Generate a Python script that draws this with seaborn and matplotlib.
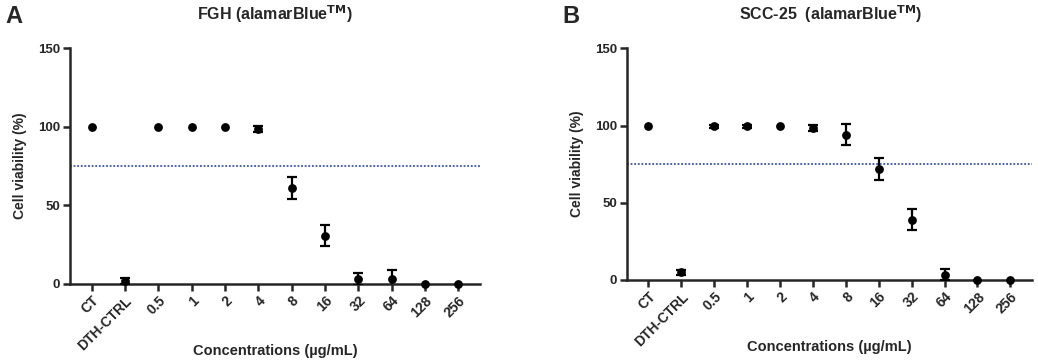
import numpy as np
import pandas as pd
import matplotlib
matplotlib.use("Agg")
import matplotlib.pyplot as plt
import seaborn as sns

# --- data ---
categories = ["CT", "DTH-CTRL", "0.5", "1", "2", "4", "8", "16", "32", "64", "128", "256"]

fgh_mean = [100, 2, 100, 100, 100, 98.5, 61, 30.5, 3.2, 3.2, 0, 0]
fgh_sd = [0, 1.8, 0, 0, 0, 2, 7, 6.7, 3.8, 5.5, 0, 0]

scc_mean = [100, 5, 99.5, 99.5, 100, 98.5, 94, 72, 39, 3.5, 0, 0]
scc_sd = [0, 1.5, 1, 1, 0, 2, 6.8, 7, 6.7, 3.7, 0, 0]

threshold = 75

sns.set_theme(style="ticks")
plt.rcParams['font.family'] = ['Liberation Sans', 'DejaVu Sans']
plt.rcParams['font.weight'] = 'bold'
plt.rcParams['axes.labelweight'] = 'bold'


def draw_panel(fig, rect, mean, sd, title, letter, letter_x, title_x, xlab_y):
    ax = fig.add_axes(rect)
    df = pd.DataFrame({"Concentration": categories, "Viability": mean, "SD": sd})
    df["pos"] = np.arange(len(categories))
    err = df[df["SD"] > 0]
    # error bars (bottom part hidden by the x axis like in GraphPad)
    ax.errorbar(err["pos"], err["Viability"], yerr=err["SD"], fmt="none", ecolor="black",
                elinewidth=1.6, capsize=3.5, capthick=1.6, zorder=3)
    sns.scatterplot(data=df, x="Concentration", y="Viability", ax=ax, color="black",
                    s=40, edgecolor="black", linewidth=0, clip_on=False, zorder=4)
    ax.axhline(threshold, color="#3a55a0", linestyle=(0, (1, 1)), linewidth=1.3, zorder=2)

    ax.set_ylim(0, 150)
    ax.set_yticks([0, 50, 100, 150])
    ax.set_xlim(-0.65, len(categories) - 0.35)
    ax.set_xticks(df["pos"])
    ax.set_xticklabels(categories, rotation=45, ha="right", rotation_mode="anchor")
    ax.tick_params(axis="both", width=1.8, length=5, pad=2)
    ax.tick_params(axis="x", labelsize=10)
    ax.tick_params(axis="y", labelsize=9.5)
    for lab in ax.get_xticklabels() + ax.get_yticklabels():
        lab.set_fontweight("bold")
    for s in ["left", "bottom"]:
        ax.spines[s].set_linewidth(1.8)
    sns.despine(ax=ax)

    ax.set_xlabel("Concentrations (µg/mL)", fontsize=10.5, fontweight="bold")
    ax.xaxis.label.set_va("center")
    ax.xaxis.set_label_coords(0.5, xlab_y)
    ax.set_ylabel("Cell viability (%)", fontsize=10, fontweight="bold", labelpad=8)

    fig.text(title_x, 0.962, title, fontsize=11.5, fontweight="bold", ha="center", va="center")
    fig.text(letter_x, 0.955, letter, fontsize=17, fontweight="bold", ha="center", va="center")
    return ax


fig = plt.figure(figsize=(10.38, 3.64), dpi=100)

draw_panel(fig, [0.0674, 0.22, 0.395, 0.648], fgh_mean, fgh_sd,
           r"FGH (alamarBlue$^{\mathbf{TM}}$)", "A", 0.013, 0.265, -0.285)
draw_panel(fig, [0.604, 0.231, 0.39, 0.636], scc_mean, scc_sd,
           r"SCC-25  (alamarBlue$^{\mathbf{TM}}$)", "B", 0.55, 0.80, -0.29)

fig.savefig("out.png", dpi=100)
